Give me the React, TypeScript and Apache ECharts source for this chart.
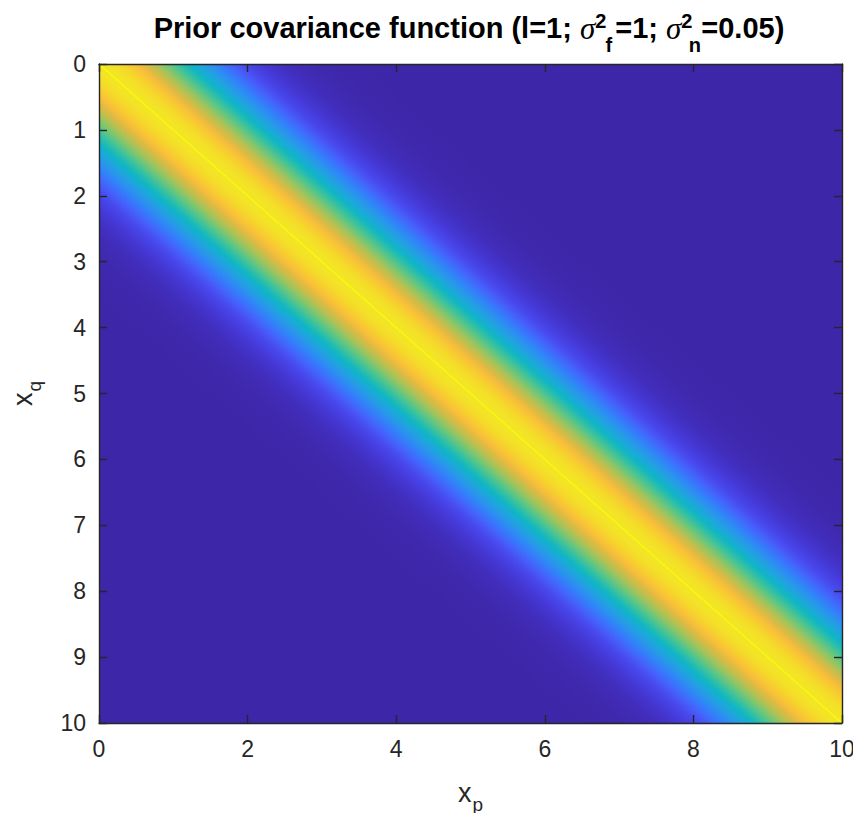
import React, { useEffect, useRef } from "react";
import * as echarts from "echarts";

// Distance |xq - xp| at which the covariance profile is sampled
const distances = [
  0.0, 0.1, 0.2, 0.3, 0.4, 0.5, 0.6, 0.7, 0.8, 0.9, 1.0, 1.1, 1.2, 1.3, 1.4, 1.5, 1.6, 1.7,
  1.8, 1.9, 2.0, 2.1, 2.2, 2.3, 2.4, 2.5, 2.6, 2.7, 2.8, 2.9, 3.0, 3.1, 3.2, 3.3, 3.4, 3.5, 4.0,
];
const covariance = [
  1.0, 0.995, 0.98, 0.956, 0.923, 0.882, 0.835, 0.783, 0.726, 0.667, 0.607, 0.546, 0.487,
  0.43, 0.375, 0.325, 0.278, 0.236, 0.198, 0.164, 0.135, 0.11, 0.089, 0.071, 0.056, 0.044,
  0.034, 0.026, 0.02, 0.015, 0.011, 0.008, 0.006, 0.004, 0.003, 0.002, 0.0,
];
// Value on the diagonal itself (signal + noise variance)
const diagonalValue = 1.05;
const diagonalEnds = [
  [0, 0],
  [10, 10],
];
const colorMin = 0;
const colorMax = 1.05;

const xTicks = { min: 0, max: 10, interval: 2 };
const yTicks = { min: 0, max: 10, interval: 1 };

const parula = [
  "#3e26a8", "#4230c2", "#463cde", "#484cf0", "#4563fc", "#3679fb", "#2d8cf3",
  "#269be6", "#1ca9da", "#0cb3cb", "#1dbcb3", "#38c29f", "#58c589", "#7cc670",
  "#a1c45d", "#c3bf4d", "#e2ba41", "#fcbf3a", "#f5d22d", "#f3e525", "#f9fb0e",
];

const FONT = "'Liberation Sans', Arial, Helvetica, sans-serif";
const SERIF = "'Liberation Serif', 'DejaVu Serif', serif";
const INK = "#262626";

export default function App() {
  const ref = useRef<HTMLDivElement>(null);
  useEffect(() => {
    if (!ref.current) return;
    const chart = echarts.init(ref.current, null, { renderer: "svg" });

    // band data: signed offset d = xq - xp, value
    const bandData: number[][] = [];
    for (let i = distances.length - 1; i > 0; i--) bandData.push([-distances[i], covariance[i]]);
    for (let i = 0; i < distances.length; i++) bandData.push([distances[i], covariance[i]]);

    const axisCommon = {
      type: "value",
      axisLine: { show: true, onZero: false, lineStyle: { color: INK, width: 1.4 } },
      axisTick: { show: true, inside: true, length: 8, lineStyle: { color: INK, width: 1.4 } },
      splitLine: { show: false },
      z: 10,
    };
    const labelStyle = { fontSize: 23, color: INK, fontFamily: FONT };
    const nameStyle = {
      fontFamily: FONT,
      color: INK,
      rich: {
        x: { fontSize: 27, fontFamily: FONT, color: INK },
        s: { fontSize: 19, fontFamily: FONT, color: INK, padding: [24, 0, 0, 1] },
      },
    };

    const option: any = {
      animation: false,
      grid: {
        left: 99,
        top: 64,
        right: 19,
        bottom: 98,
        show: true,
        backgroundColor: parula[0],
        borderWidth: 0,
      },
      visualMap: {
        type: "continuous",
        show: false,
        min: colorMin,
        max: colorMax,
        dimension: 1,
        seriesIndex: 0,
        inRange: { color: parula },
      },
      xAxis: [
        {
          ...axisCommon,
          ...xTicks,
          position: "bottom",
          axisLabel: { ...labelStyle, margin: 14 },
          name: "{x|x}{s|p}",
          nameLocation: "middle",
          nameGap: 48,
          nameTextStyle: nameStyle,
        },
        {
          ...axisCommon,
          ...xTicks,
          position: "top",
          axisLabel: { show: false },
        },
      ],
      yAxis: [
        {
          ...axisCommon,
          ...yTicks,
          inverse: true,
          position: "left",
          axisLabel: { ...labelStyle, margin: 13 },
          name: "{x|x}{s|q}",
          nameLocation: "middle",
          nameRotate: 90,
          nameGap: 55,
          nameTextStyle: nameStyle,
        },
        {
          ...axisCommon,
          ...yTicks,
          inverse: true,
          position: "right",
          axisLabel: { show: false },
        },
      ],
      series: [
        {
          type: "custom",
          coordinateSystem: "cartesian2d",
          xAxisIndex: 0,
          yAxisIndex: 0,
          clip: true,
          encode: { x: -1, y: -1 },
          data: bandData,
          renderItem: (params: any, api: any) => {
            const idx = params.dataIndexInside;
            if (idx >= params.dataInsideLength - 1) return null;
            const d0 = api.value(0);
            const d1 = api.value(0, idx + 1);
            const c0 = api.visual("color");
            const c1 = api.visual("color", idx + 1);
            const ext = 0.02;
            const p1 = api.coord([-5, -5 + d0]);
            const p2 = api.coord([15, 15 + d0]);
            const p3 = api.coord([15, 15 + d1 + ext]);
            const p4 = api.coord([-5, -5 + d1 + ext]);
            const A = api.coord([0, d0]);
            const B = api.coord([0, d1]);
            const U = api.coord([10, 10 + d0]);
            const ux = U[0] - A[0];
            const uy = U[1] - A[1];
            const len = Math.hypot(ux, uy);
            const nx = -uy / len;
            const ny = ux / len;
            const proj = (B[0] - A[0]) * nx + (B[1] - A[1]) * ny;
            const E = [A[0] + nx * proj, A[1] + ny * proj];
            return {
              type: "polygon",
              shape: { points: [p1, p2, p3, p4] },
              style: {
                fill: {
                  type: "linear",
                  x: A[0],
                  y: A[1],
                  x2: E[0],
                  y2: E[1],
                  global: true,
                  colorStops: [
                    { offset: 0, color: c0 },
                    { offset: 1, color: c1 },
                  ],
                },
                stroke: null,
              },
            };
          },
        },
        {
          type: "line",
          xAxisIndex: 0,
          yAxisIndex: 0,
          data: diagonalEnds,
          symbol: "none",
          silent: true,
          lineStyle: { color: "#f9fb0e", width: 1.2 },
          z: 3,
          name: "diag-" + diagonalValue,
        },
      ],
      graphic: [
        {
          type: "text",
          x: 469,
          y: 28,
          z: 20,
          style: {
            text:
              "{b|Prior covariance function (l=1; }{g|σ}{u|2}{l|f}{b|=1; }{g|σ}{u|2}{l|n}{b|=0.05)}",
            align: "center",
            verticalAlign: "middle",
            fill: "#000",
            rich: {
              b: { fontSize: 29, fontWeight: "bold", fontFamily: FONT, fill: "#000" },
              g: {
                fontSize: 31,
                fontStyle: "italic",
                fontFamily: SERIF,
                fill: "#000",
                padding: [0, 5, 0, 0],
              },
              u: {
                fontSize: 20,
                fontWeight: "bold",
                fontFamily: FONT,
                fill: "#000",
                width: 1,
                padding: [0, 0, 15, 0],
              },
              l: {
                fontSize: 20,
                fontWeight: "bold",
                fontFamily: FONT,
                fill: "#000",
                width: 13,
                padding: [34, 0, 0, 1],
              },
            },
          },
        },
      ],
    };
    chart.setOption(option);
    return () => chart.dispose();
  }, []);
  return <div ref={ref} style={{ width: 861, height: 821, margin: -8 }} />;
}
